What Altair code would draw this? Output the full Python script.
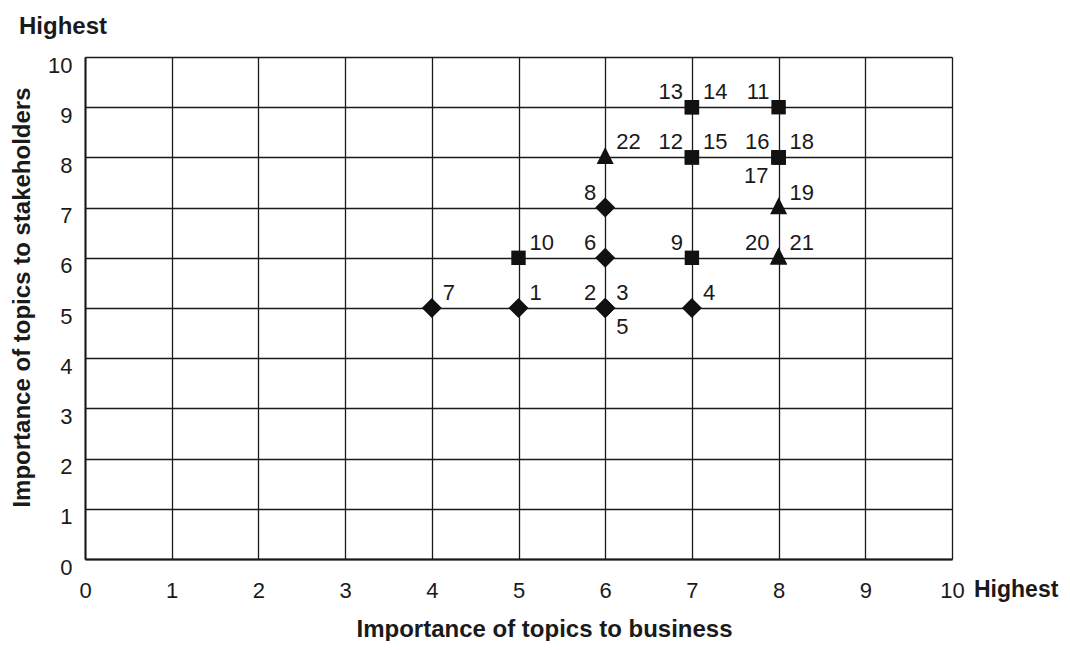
import altair as alt
import pandas as pd

# ---- data ----
topic_ids = [str(i) for i in range(1, 23)]
business = [5, 6, 6, 7, 6, 6, 4, 6, 7, 5, 8, 7, 7, 7, 7, 8, 8, 8, 8, 8, 8, 6]
stakeholders = [5, 5, 5, 5, 5, 6, 5, 7, 6, 6, 9, 8, 9, 9, 8, 8, 8, 8, 7, 6, 6, 8]
marker = ["diamond"] * 8 + ["square"] * 10 + ["triangle"] * 4
placement = ["ur", "ul", "ur", "ur", "lr", "ul", "ur", "ul", "ul", "ur", "ul",
             "ul", "ul", "ur", "ur", "ul", "ll", "ur", "ur", "ul", "ur", "ur"]

tick_values = list(range(0, 11))
x_title = "Importance of topics to business"
y_title = "Importance of topics to stakeholders"
end_label = "Highest"

df = pd.DataFrame({
    "topic": topic_ids,
    "business": business,
    "stakeholders": stakeholders,
    "marker": marker,
    "placement": placement,
})

FONT = "Liberation Sans"
INK = "#1a1a1a"

xscale = alt.Scale(domain=[0, 10], nice=False, zero=False)
yscale = alt.Scale(domain=[0, 10], nice=False, zero=False)

xaxis = alt.Axis(
    values=tick_values, format="d", title=x_title, grid=True, ticks=False, tickSize=0,
    labelFont=FONT, labelFontSize=22, labelColor=INK, labelPadding=31,
    labelBaseline="middle", labelFlush=False,
    titleFont=FONT, titleFontSize=24, titleFontWeight="bold", titleColor=INK,
    titleX=459, titleY=77, titleBaseline="alphabetic", titleAlign="center",
    gridColor=INK, gridWidth=1.3, gridOpacity=1,
    domainColor=INK, domainWidth=2,
)
yaxis = alt.Axis(
    values=tick_values, format="d", title=y_title, grid=True, ticks=False, tickSize=0,
    labelFont=FONT, labelFontSize=22, labelColor=INK, labelPadding=13,
    labelOffset=8, labelFlush=False, labelAlign="right", labelBaseline="middle",
    titleFont=FONT, titleFontSize=24, titleFontWeight="bold", titleColor=INK,
    titleX=-56, titleY=240, titleBaseline="alphabetic", titleAlign="center",
    titleAngle=270,
    gridColor=INK, gridWidth=1.3, gridOpacity=1,
    domainColor=INK, domainWidth=2,
)

base = alt.Chart(df)

points = base.mark_point(filled=True, opacity=1, color="#111111", strokeWidth=0).encode(
    x=alt.X("business:Q", scale=xscale, axis=xaxis),
    y=alt.Y("stakeholders:Q", scale=yscale, axis=yaxis),
    shape=alt.Shape(
        "marker:N",
        scale=alt.Scale(
            domain=["diamond", "square", "triangle"],
            range=["M-1,0L0,-1L1,0L0,1Z",
                   "M-0.72,-0.72L0.72,-0.72L0.72,0.72L-0.72,0.72Z",
                   "M0,-1.04L0.85,0.66L-0.85,0.66Z"],
        ),
        legend=None,
    ),
    size=alt.value(400),
)

offsets = {
    "ur": dict(align="left", dx=11, dy=-15),
    "ul": dict(align="right", dx=-9, dy=-15),
    "lr": dict(align="left", dx=11, dy=19),
    "ll": dict(align="right", dx=-10, dy=19),
}

label_layers = []
for key, opts in offsets.items():
    label_layers.append(
        base.transform_filter(alt.datum.placement == key)
        .mark_text(font=FONT, fontSize=22, color=INK, baseline="middle", **opts)
        .encode(
            x=alt.X("business:Q", scale=xscale),
            y=alt.Y("stakeholders:Q", scale=yscale),
            text="topic:N",
        )
    )

ann_df = pd.DataFrame({"t": [end_label]})
top_note = alt.Chart(ann_df).mark_text(
    font=FONT, fontSize=24, fontWeight="bold", color=INK, align="left", baseline="alphabetic"
).encode(x=alt.value(-66), y=alt.value(-23), text="t:N")
right_note = alt.Chart(ann_df).mark_text(
    font=FONT, fontSize=23, fontWeight="bold", color=INK, align="left", baseline="alphabetic"
).encode(x=alt.value(889), y=alt.value(540), text="t:N")

chart = alt.layer(points, *label_layers, top_note, right_note).properties(
    width=867,
    height=502,
    autosize=alt.AutoSizeParams(type="none"),
    padding={"left": 77, "top": 49, "right": 109, "bottom": 82},
    background="white",
).configure_view(stroke=None)

chart.save("out.html", embed_options={"renderer": "svg", "actions": False})
